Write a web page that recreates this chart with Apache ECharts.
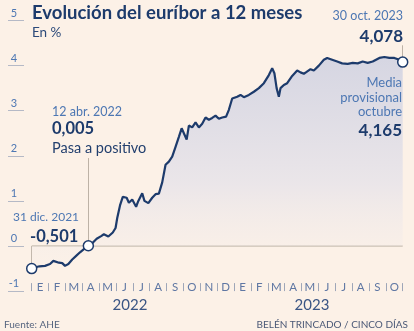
<!DOCTYPE html>
<html><head><meta charset="utf-8">
<script src="https://cdn.jsdelivr.net/npm/echarts@6/dist/echarts.min.js"></script>
<style>html,body{margin:0;padding:0;background:#fcf1e7;}#c{width:414px;height:331px;}</style>
</head><body><div id="c"></div>
<script>
const dates = ['2021-12-31','2022-01-07','2022-01-14','2022-01-24','2022-02-02','2022-02-08','2022-02-11','2022-02-18','2022-02-24','2022-03-01','2022-03-07','2022-03-14','2022-03-21','2022-03-28','2022-04-04','2022-04-12','2022-04-19','2022-04-27','2022-05-05','2022-05-10','2022-05-18','2022-05-26','2022-05-31','2022-06-03','2022-06-08','2022-06-13','2022-06-20','2022-06-24','2022-06-30','2022-07-07','2022-07-11','2022-07-18','2022-07-22','2022-07-29','2022-08-05','2022-08-11','2022-08-17','2022-08-23','2022-08-29','2022-09-04','2022-09-10','2022-09-16','2022-09-22','2022-09-27','2022-10-01','2022-10-06','2022-10-10','2022-10-16','2022-10-22','2022-10-28','2022-11-03','2022-11-09','2022-11-15','2022-11-21','2022-11-27','2022-12-03','2022-12-09','2022-12-16','2022-12-21','2022-12-27','2023-01-05','2023-01-11','2023-01-17','2023-01-26','2023-02-04','2023-02-13','2023-02-22','2023-03-03','2023-03-09','2023-03-13','2023-03-17','2023-03-21','2023-03-24','2023-03-30','2023-04-05','2023-04-08','2023-04-14','2023-04-23','2023-04-29','2023-05-05','2023-05-10','2023-05-17','2023-05-23','2023-06-01','2023-06-10','2023-06-16','2023-06-25','2023-07-04','2023-07-13','2023-07-23','2023-08-01','2023-08-10','2023-08-19','2023-08-28','2023-09-06','2023-09-18','2023-09-27','2023-10-06','2023-10-15','2023-10-24','2023-10-30'];
const euribor = [-0.501,-0.47,-0.45,-0.44,-0.40,-0.33,-0.33,-0.37,-0.38,-0.44,-0.40,-0.30,-0.22,-0.14,-0.07,0.005,0.06,0.16,0.22,0.26,0.21,0.30,0.40,0.62,0.90,1.09,1.07,0.96,1.03,0.87,1.00,1.17,1.00,0.95,1.07,1.15,1.16,1.41,1.80,1.87,1.98,2.20,2.42,2.61,2.50,2.36,2.67,2.63,2.74,2.63,2.71,2.85,2.80,2.84,2.89,2.82,2.85,2.87,3.02,3.27,3.31,3.35,3.30,3.35,3.42,3.50,3.61,3.79,3.94,3.83,3.50,3.31,3.50,3.57,3.61,3.57,3.77,3.89,3.85,3.82,3.86,3.92,3.89,4.00,4.13,4.17,4.13,4.09,4.05,4.04,4.06,4.05,4.09,4.06,4.09,4.17,4.19,4.17,4.17,4.13,4.078];
const months = ['E','F','M','A','M','J','J','A','S','O','N','D','E','F','M','A','M','J','J','A','S','O'];
const years = ['2022','2023'];
const yTicks = [-1,0,1,2,3,4,5];
const highlighted = ['2021-12-31','2022-04-12','2023-10-30'];

const NAVY = '#1d3b6c', BLUE = '#4d77b3', FONT = 'Lato, "Noto Sans", sans-serif';
const chart = echarts.init(document.getElementById('c'), null, {renderer:'canvas'});
const seriesData = dates.map((d,i) => highlighted.includes(d)
  ? {value:[d, euribor[i]], symbol:'circle', symbolSize:10, itemStyle:{color:'#ffffff', borderColor:NAVY, borderWidth:1.5}}
  : {value:[d, euribor[i]], symbol:'none'});
const valAt = d => euribor[dates.indexOf(d)];
const txt = (x,y,text,size,color,weight,align) => ({type:'text', x, y, silent:true, z:100,
  style:{text, fontSize:size, fontFamily:FONT, fill:color, fontWeight:weight||'normal', textAlign:align||'left', textVerticalAlign:'middle'}});

chart.setOption({
  backgroundColor:'#fcf1e7',
  animation:false,
  grid:{left:31.7, right:11.3, top:20.5, bottom:39.9},
  xAxis:[
    {type:'time', min:'2021-12-31', max:'2023-10-30', show:false},
    {type:'category', data:months, position:'bottom', boundaryGap:true,
     axisLine:{show:false},
     axisTick:{show:true, inside:true, length:8, interval:0, lineStyle:{color:'#9ea6b8', width:1}},
     axisLabel:{interval:0, margin:-4, verticalAlign:'middle', color:'#5f77a3', fontSize:11.5, fontFamily:FONT}}
  ],
  yAxis:{type:'value', min:yTicks[0], max:yTicks[yTicks.length-1], interval:1, offset:7.7,
    axisLine:{show:false}, splitLine:{show:false},
    axisTick:{show:true, length:16, lineStyle:{color:'#b5b9c6', width:1}},
    axisLabel:{align:'center', margin:10, verticalAlign:'bottom', padding:[0,0,2,0], color:BLUE, fontSize:11, fontFamily:FONT}},
  series:[{
    type:'line', xAxisIndex:0, data:seriesData, symbol:'none', showSymbol:true, clip:false,
    lineStyle:{color:NAVY, width:2.2},
    areaStyle:{color:new echarts.graphic.LinearGradient(0,0,0,1,[{offset:0,color:'#c5cae0'},{offset:0.6,color:'#e3e1ea'},{offset:1,color:'rgba(250,240,233,0.4)'}])},
    z:3,
    markLine:{silent:true, symbol:'none', label:{show:false}, z:1,
      lineStyle:{color:'#bdb2a6', width:1, type:'solid'},
      data:[
        [{coord:[dates[0],0], lineStyle:{color:'#cbc0b4', width:1.5}},{coord:[dates[dates.length-1],0]}],
        [{coord:['2021-12-31',valAt('2021-12-31')]},{coord:['2021-12-31',0]}],
        [{coord:['2022-04-12',valAt('2022-04-12')]},{coord:['2022-04-12',1.95]}],
        [{coord:['2023-10-30',valAt('2023-10-30')]},{coord:['2023-10-30',4.45]}],
        [{coord:['2023-01-01',-0.82]},{coord:['2023-01-01',-1.24]}]
      ]}
  }],
  graphic:[
    txt(32,13,'Evolución del euríbor a 12 meses',18.5,NAVY,'bold'),
    txt(32,33,'En %',13.5,'#2c4a7a'),
    txt(403,16,'30 oct. 2023',12.5,BLUE,'normal','right'),
    txt(403,37,'4,078',17,NAVY,'bold','right'),
    txt(52,112,'12 abr. 2022',12.5,BLUE),
    txt(52,129,'0,005',16.5,NAVY,'bold'),
    txt(52,148,'Pasa a positivo',14.5,'#223f6e'),
    txt(13,217,'31 dic. 2021',12,BLUE),
    txt(30,237,'-0,501',16.5,NAVY,'bold'),
    txt(402,83,'Media',13,BLUE,'normal','right'),
    txt(402,98,'provisional',13,BLUE,'normal','right'),
    txt(402,112,'octubre',13,BLUE,'normal','right'),
    txt(402,131,'4,165',17,NAVY,'bold','right'),
    txt(130,305,years[0],15,'#3a5584','normal','center'),
    txt(312,305,years[1],15,'#3a5584','normal','center'),
    txt(4,325,'Fuente: AHE',10,'#56657f'),
    txt(408,325,'BELÉN TRINCADO / CINCO DÍAS',10,'#4a5876','normal','right')
  ]
});
</script></body></html>
